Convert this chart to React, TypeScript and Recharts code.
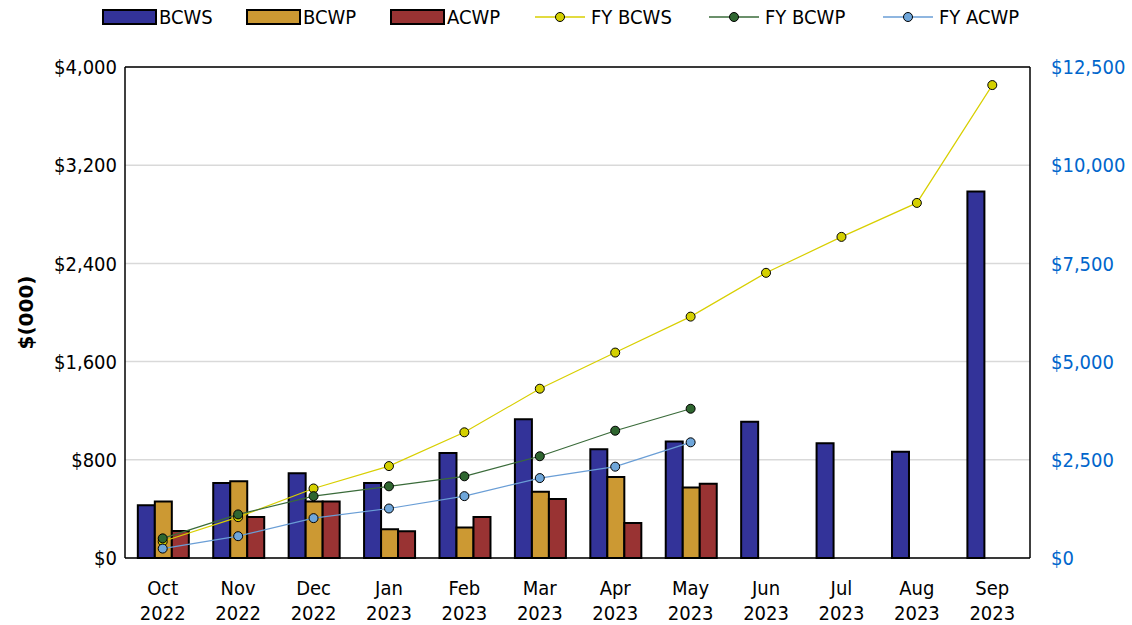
import React from 'react';
import {
  ComposedChart, Bar, Line, XAxis, YAxis, CartesianGrid, ReferenceLine,
} from 'recharts';

const months = ['Oct', 'Nov', 'Dec', 'Jan', 'Feb', 'Mar', 'Apr', 'May', 'Jun', 'Jul', 'Aug', 'Sep'];
const years = ['2022', '2022', '2022', '2023', '2023', '2023', '2023', '2023', '2023', '2023', '2023', '2023'];

const bcws = [430, 610, 690, 610, 855, 1130, 885, 950, 1110, 935, 865, 2985];
const bcwp = [460, 625, 460, 235, 248, 540, 660, 575];
const acwp = [220, 335, 460, 218, 335, 480, 285, 605];

const fyBcws = [420, 1040, 1770, 2340, 3200, 4310, 5230, 6145, 7260, 8175, 9040, 12040];
const fyBcwp = [500, 1110, 1575, 1825, 2080, 2590, 3240, 3800];
const fyAcwp = [240, 555, 1015, 1260, 1575, 2035, 2325, 2945];

const leftTicks = [0, 800, 1600, 2400, 3200, 4000];
const rightTicks = [0, 2500, 5000, 7500, 10000, 12500];

const data = months.map((m, i) => ({
  month: m,
  year: years[i],
  bcws: bcws[i] ?? null,
  bcwp: bcwp[i] ?? null,
  acwp: acwp[i] ?? null,
  fyBcws: fyBcws[i] ?? null,
  fyBcwp: fyBcwp[i] ?? null,
  fyAcwp: fyAcwp[i] ?? null,
}));

const FONT = "'DejaVu Sans Condensed', 'DejaVu Sans', Verdana, sans-serif";
const FS = 20;
const C = {
  bcws: '#333399',
  bcwp: '#CC9933',
  acwp: '#993333',
  fyBcwsLine: '#D8CF00',
  fyBcwsDot: '#D4D000',
  fyBcwpLine: '#3A6B3A',
  fyBcwpDot: '#2F6630',
  fyAcwpLine: '#6A9ED6',
  fyAcwpDot: '#6FA6DA',
};

const fmt = (v: number) => '$' + v.toLocaleString('en-US');

const XTick = (props: any) => {
  const { x, y, payload, index } = props;
  return (
    <text x={x} y={y} textAnchor="middle" fontFamily={FONT} fontStretch="condensed" fontSize={FS} fill="#000">
      <tspan x={x} dy={35}>{payload.value}</tspan>
      <tspan x={x} dy={25}>{years[index] ?? data[index]?.year}</tspan>
    </text>
  );
};

const legendItems = [
  { name: 'BCWS', type: 'bar', color: C.bcws },
  { name: 'BCWP', type: 'bar', color: C.bcwp },
  { name: 'ACWP', type: 'bar', color: C.acwp },
  { name: 'FY BCWS', type: 'line', color: C.fyBcwsLine, dot: C.fyBcwsDot },
  { name: 'FY BCWP', type: 'line', color: C.fyBcwpLine, dot: C.fyBcwpDot },
  { name: 'FY ACWP', type: 'line', color: C.fyAcwpLine, dot: C.fyAcwpDot },
];
const legendX = [103, 247, 391, 535, 709, 883];

const Legend2 = () => (
  <svg width={1132} height={36} style={{ position: 'absolute', left: 0, top: 0 }}>
    {legendItems.map((it, i) => {
      const x = legendX[i];
      if (it.type === 'bar') {
        return (
          <g key={it.name}>
            <rect x={x} y={10} width={53} height={14} fill={it.color} stroke="#000" strokeWidth={2} />
            <text x={x + 56} y={17} dominantBaseline="central" fontFamily={FONT} fontStretch="condensed" fontSize={FS} fill="#000">{it.name}</text>
          </g>
        );
      }
      return (
        <g key={it.name}>
          <line x1={x} x2={x + 50} y1={17} y2={17} stroke={it.color} strokeWidth={1.5} />
          <circle cx={x + 25} cy={17} r={4.5} fill={it.dot} stroke="#000" strokeWidth={1} />
          <text x={x + 56} y={17} dominantBaseline="central" fontFamily={FONT} fontStretch="condensed" fontSize={FS} fill="#000">{it.name}</text>
        </g>
      );
    })}
  </svg>
);

const YLabel = (props: any) => {
  const vb = props.viewBox || { y: 67, height: 491 };
  const cy = vb.y + vb.height / 2;
  return (
    <text x={26} y={cy} transform={`rotate(-90, 26, ${cy})`} textAnchor="middle" dominantBaseline="central"
      fontFamily="'DejaVu Sans', Verdana, sans-serif" fontSize={20} fontWeight="bold" fill="#000">$(000)</text>
  );
};

export default function App() {
  return (
    <div style={{ position: 'absolute', left: 0, top: 0, width: 1132, height: 625, background: '#fff', fontFamily: FONT }}>
      <Legend2 />
      <ComposedChart
        width={1132}
        height={625}
        data={data}
        margin={{ top: 67, right: 10, left: 20, bottom: 7 }}
        barCategoryGap="17%"
        barGap={0}
      >
        <CartesianGrid yAxisId="left" vertical={false} stroke="#d9d9d9" strokeWidth={1.5} />
        <XAxis
          dataKey="month"
          height={60}
          interval={0}
          tickLine={false}
          tickSize={0}
          axisLine={{ stroke: '#000', strokeWidth: 1.5 }}
          tick={<XTick />}
        />
        <YAxis
          yAxisId="left"
          width={105}
          domain={[0, 4000]}
          ticks={leftTicks}
          tickFormatter={fmt}
          tickLine={false}
          tickSize={0}
          tickMargin={8}
          axisLine={{ stroke: '#000', strokeWidth: 1.5 }}
          tick={{ fontSize: FS, fill: '#000', fontFamily: FONT, fontStretch: 'condensed' }}
          label={YLabel}
        />
        <YAxis
          yAxisId="right"
          orientation="right"
          width={92}
          domain={[0, 12500]}
          ticks={rightTicks}
          tickFormatter={fmt}
          tickLine={false}
          tickSize={0}
          tickMargin={21}
          axisLine={{ stroke: '#000', strokeWidth: 1.5 }}
          tick={{ fontSize: FS, fill: '#0066CC', fontFamily: FONT, fontStretch: 'condensed', textAnchor: 'start' }}
        />
        <ReferenceLine yAxisId="left" y={4000} stroke="#000" strokeWidth={1.5} />
        <Bar yAxisId="left" dataKey="bcws" name="BCWS" fill={C.bcws} stroke="#000" strokeWidth={2} isAnimationActive={false} />
        <Bar yAxisId="left" dataKey="bcwp" name="BCWP" fill={C.bcwp} stroke="#000" strokeWidth={2} isAnimationActive={false} />
        <Bar yAxisId="left" dataKey="acwp" name="ACWP" fill={C.acwp} stroke="#000" strokeWidth={2} isAnimationActive={false} />
        <Line yAxisId="right" type="linear" dataKey="fyBcws" name="FY BCWS" stroke={C.fyBcwsLine} strokeWidth={1.2}
          dot={{ r: 4.5, fill: C.fyBcwsDot, stroke: '#000', strokeWidth: 1 }} activeDot={false} isAnimationActive={false} />
        <Line yAxisId="right" type="linear" dataKey="fyBcwp" name="FY BCWP" stroke={C.fyBcwpLine} strokeWidth={1.2}
          dot={{ r: 4.5, fill: C.fyBcwpDot, stroke: '#000', strokeWidth: 1 }} activeDot={false} isAnimationActive={false} />
        <Line yAxisId="right" type="linear" dataKey="fyAcwp" name="FY ACWP" stroke={C.fyAcwpLine} strokeWidth={1.2}
          dot={{ r: 4.5, fill: C.fyAcwpDot, stroke: '#000', strokeWidth: 1 }} activeDot={false} isAnimationActive={false} />
      </ComposedChart>
    </div>
  );
}
